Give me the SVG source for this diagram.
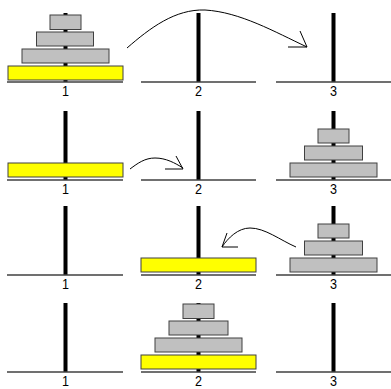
<svg xmlns="http://www.w3.org/2000/svg" width="391" height="389" viewBox="0 0 391 389">
<style>
.pole{fill:#000}
.base{stroke:#404040;stroke-width:1.5}
.disk{stroke:#404040;stroke-width:1}
.g{fill:#c0c0c0}
.y{fill:#ffff00}
.lbl{font-family:"Liberation Sans",Arial,sans-serif;font-size:15.5px;fill:#000;text-anchor:middle}
.arr{fill:none;stroke:#000;stroke-width:1}
</style>
<rect width="391" height="389" fill="#fff"/>
<!-- Row 1 -->
<g id="r1-peg1">
<rect class="pole" x="63.5" y="13" width="4" height="69"/>
<line class="base" x1="7" y1="82" x2="123" y2="82"/>
<rect class="disk y" x="8" y="66" width="115" height="14"/>
<rect class="disk g" x="22" y="49" width="87" height="14"/>
<rect class="disk g" x="36.5" y="32" width="57" height="14"/>
<rect class="disk g" x="50" y="15" width="31" height="14.5"/>
<text class="lbl" x="65.5" y="96" textLength="7" lengthAdjust="spacingAndGlyphs">1</text>
</g>
<g id="r1-peg2">
<rect class="pole" x="196.5" y="13" width="4" height="69"/>
<line class="base" x1="141" y1="82" x2="256" y2="82"/>
<text class="lbl" x="198.5" y="96" textLength="7" lengthAdjust="spacingAndGlyphs">2</text>
</g>
<g id="r1-peg3">
<rect class="pole" x="331.5" y="13" width="4" height="69"/>
<line class="base" x1="276" y1="82" x2="391" y2="82"/>
<text class="lbl" x="333.5" y="96" textLength="7" lengthAdjust="spacingAndGlyphs">3</text>
</g>
<!-- Row 2 -->
<g id="r2-peg1">
<rect class="pole" x="63.5" y="111" width="4" height="69"/>
<line class="base" x1="7" y1="180" x2="123" y2="180"/>
<rect class="disk y" x="8" y="163" width="115" height="14"/>
<text class="lbl" x="65.5" y="194" textLength="7" lengthAdjust="spacingAndGlyphs">1</text>
</g>
<g id="r2-peg2">
<rect class="pole" x="196.5" y="111" width="4" height="69"/>
<line class="base" x1="141" y1="180" x2="256" y2="180"/>
<text class="lbl" x="198.5" y="194" textLength="7" lengthAdjust="spacingAndGlyphs">2</text>
</g>
<g id="r2-peg3">
<rect class="pole" x="331.5" y="111" width="4" height="69"/>
<line class="base" x1="276" y1="180" x2="391" y2="180"/>
<rect class="disk g" x="290" y="163" width="87" height="14"/>
<rect class="disk g" x="304.5" y="146" width="58" height="14"/>
<rect class="disk g" x="318" y="129" width="31" height="14"/>
<text class="lbl" x="333.5" y="194" textLength="7" lengthAdjust="spacingAndGlyphs">3</text>
</g>
<!-- Row 3 -->
<g id="r3-peg1">
<rect class="pole" x="63.5" y="206" width="4" height="69"/>
<line class="base" x1="7" y1="275" x2="123" y2="275"/>
<text class="lbl" x="65.5" y="289" textLength="7" lengthAdjust="spacingAndGlyphs">1</text>
</g>
<g id="r3-peg2">
<rect class="pole" x="196.5" y="206" width="4" height="69"/>
<line class="base" x1="141" y1="275" x2="256" y2="275"/>
<rect class="disk y" x="141" y="258" width="115" height="14"/>
<text class="lbl" x="198.5" y="289" textLength="7" lengthAdjust="spacingAndGlyphs">2</text>
</g>
<g id="r3-peg3">
<rect class="pole" x="331.5" y="206" width="4" height="69"/>
<line class="base" x1="276" y1="275" x2="391" y2="275"/>
<rect class="disk g" x="290" y="258" width="87" height="14"/>
<rect class="disk g" x="304.5" y="241" width="58" height="14"/>
<rect class="disk g" x="318" y="224" width="31" height="14"/>
<text class="lbl" x="333.5" y="289" textLength="7" lengthAdjust="spacingAndGlyphs">3</text>
</g>
<!-- Row 4 -->
<g id="r4-peg1">
<rect class="pole" x="63.5" y="303" width="4" height="69"/>
<line class="base" x1="7" y1="372" x2="123" y2="372"/>
<text class="lbl" x="65.5" y="385.5" textLength="7" lengthAdjust="spacingAndGlyphs">1</text>
</g>
<g id="r4-peg2">
<rect class="pole" x="196.5" y="303" width="4" height="69"/>
<line class="base" x1="141" y1="372" x2="256" y2="372"/>
<rect class="disk y" x="141" y="355" width="115" height="14"/>
<rect class="disk g" x="155" y="338" width="87" height="14"/>
<rect class="disk g" x="169" y="321" width="59" height="14"/>
<rect class="disk g" x="183" y="304" width="31" height="14.5"/>
<text class="lbl" x="198.5" y="385.5" textLength="7" lengthAdjust="spacingAndGlyphs">2</text>
</g>
<g id="r4-peg3">
<rect class="pole" x="331.5" y="303" width="4" height="69"/>
<line class="base" x1="276" y1="372" x2="391" y2="372"/>
<text class="lbl" x="333.5" y="385.5" textLength="7" lengthAdjust="spacingAndGlyphs">3</text>
</g>
<!-- Connectors -->
<g id="connectors">
<path class="arr" d="M127,48 C150,28 175,9 205,10 C240,12 275,32 307,47"/>
<path class="arr" d="M300,31 L307,47 L288,47"/>
<path class="arr" d="M130,169 C138,163 145,158 155,158 C166,158 175,163 183,168"/>
<path class="arr" d="M176,156 L183,169 L165,169"/>
<path class="arr" d="M296,247 C280,240 265,228 250,228 C238,228 228,238 222,247"/>
<path class="arr" d="M227,233 L222,247 L238,247"/>
</g>
</svg>
